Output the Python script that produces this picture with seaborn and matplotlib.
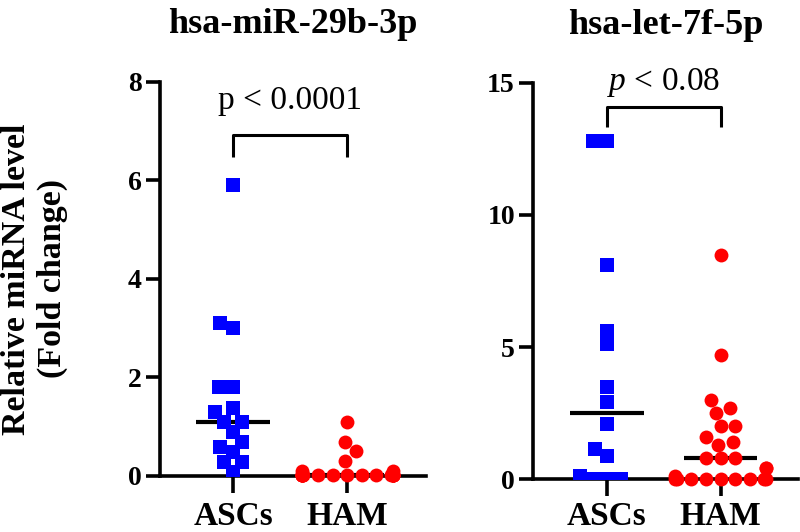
import numpy as np
import pandas as pd
import matplotlib
matplotlib.use('Agg')
import matplotlib.pyplot as plt
import seaborn as sns
import warnings
warnings.filterwarnings('ignore')

# valores
groups = ['ASCs', 'HAM']

mir29b_ascs = [5.9, 3.1, 3.0, 1.8, 1.8, 1.38, 1.3, 1.1, 1.1, 0.89, 0.69, 0.59,
               0.49, 0.28, 0.28, 0.08]
mir29b_ham = [1.1, 0.7, 0.5, 0.3, 0.1, 0.1] + [0.02] * 19

let7f_ascs = [12.8, 12.8, 8.1, 5.6, 5.1, 3.5, 2.9, 2.1, 1.15, 0.88, 0.11,
              0.0, 0.0, 0.0]
let7f_ham = [8.5, 4.7, 3.0, 2.7, 2.5, 2.0, 2.0, 1.6, 1.4, 1.3, 0.78, 0.78, 0.78,
             0.43, 0.43, 0.1] + [0.0] * 9

titles = ['hsa-miR-29b-3p', 'hsa-let-7f-5p']
p_labels = ['p < 0.0001', '$p$ < 0.08']
y_max = [8, 15]
y_ticks = [[0, 2, 4, 6, 8], [0, 5, 10, 15]]

colors = {'ASCs': '#0000FF', 'HAM': '#FF0000'}
markers = {'ASCs': 's', 'HAM': 'o'}

sns.set_theme(style='ticks')
plt.rcParams['font.family'] = ['Liberation Serif', 'DejaVu Serif']
plt.rcParams['font.weight'] = 'bold'
for k in ['text.color', 'axes.labelcolor', 'axes.edgecolor', 'xtick.color', 'ytick.color']:
    plt.rcParams[k] = 'black'
plt.rcParams['mathtext.fontset'] = 'custom'
plt.rcParams['mathtext.rm'] = 'Liberation Serif:weight=normal'
plt.rcParams['mathtext.it'] = 'Liberation Serif:style=italic:weight=normal'


def make_df(ascs, ham):
    return pd.DataFrame({
        'group': ['ASCs'] * len(ascs) + ['HAM'] * len(ham),
        'value': list(ascs) + list(ham),
    })


def draw_panel(ax, df, title, ymax, yticks, ptext, bracket, text_y, xlim, xpad):
    # mediana
    sns.boxplot(data=df, x='group', y='value', order=groups, ax=ax,
                showbox=False, showcaps=False, showfliers=False,
                whiskerprops={'visible': False},
                medianprops={'color': 'black', 'linewidth': 3, 'zorder': 2},
                width=0.65)
    for g in groups:
        sub = df[df['group'] == g]
        sns.swarmplot(data=sub, x='group', y='value', order=groups, ax=ax,
                      color=colors[g], marker=markers[g],
                      size=9.5 if g == 'ASCs' else 10, linewidth=0)
        ax.collections[-1].set_clip_on(False)
        ax.collections[-1].set_zorder(3)

    ax.set_ylim(0, ymax)
    ax.set_xlim(*xlim)
    ax.set_yticks(yticks)
    ax.set_xlabel('')
    ax.set_ylabel('')
    sns.despine(ax=ax)
    for s in ['left', 'bottom']:
        ax.spines[s].set_linewidth(2.6)
    ax.tick_params(axis='y', width=2.6, length=10, pad=3, labelsize=20)
    ax.tick_params(axis='x', width=2.6, length=12, pad=xpad, labelsize=24)
    ax.set_title(title, fontsize=26, fontweight='bold', pad=35)

    # colchete de significância
    y_top, y_leg = bracket
    ax.plot([0, 0, 1, 1], [y_leg, y_top, y_top, y_leg], color='black',
            lw=2.2, clip_on=False, solid_capstyle='butt')
    ax.text(0.5, text_y, ptext, ha='center', va='bottom', fontsize=24,
            fontweight='normal')


fig = plt.figure(figsize=(8, 5.32), dpi=100)
ax1 = fig.add_axes([0.2, 0.1053, 0.3325, 0.7406])
ax2 = fig.add_axes([0.6663, 0.0996, 0.331, 0.7444])

draw_panel(ax1, make_df(mir29b_ascs, mir29b_ham), titles[0], y_max[0],
           y_ticks[0], p_labels[0], (6.92, 6.48), 7.3, (-0.64, 1.69), 6)
draw_panel(ax2, make_df(let7f_ascs, let7f_ham), titles[1], y_max[1],
           y_ticks[1], p_labels[1], (14.09, 13.33), 14.4, (-0.65, 1.68), 4)

ax1.set_ylabel('Relative miRNA level\n(Fold change)', fontsize=24.5,
               fontweight='bold', linespacing=1.2)
ax1.yaxis.set_label_coords(-0.345, 0.5)

fig.savefig('out.png', dpi=100)
